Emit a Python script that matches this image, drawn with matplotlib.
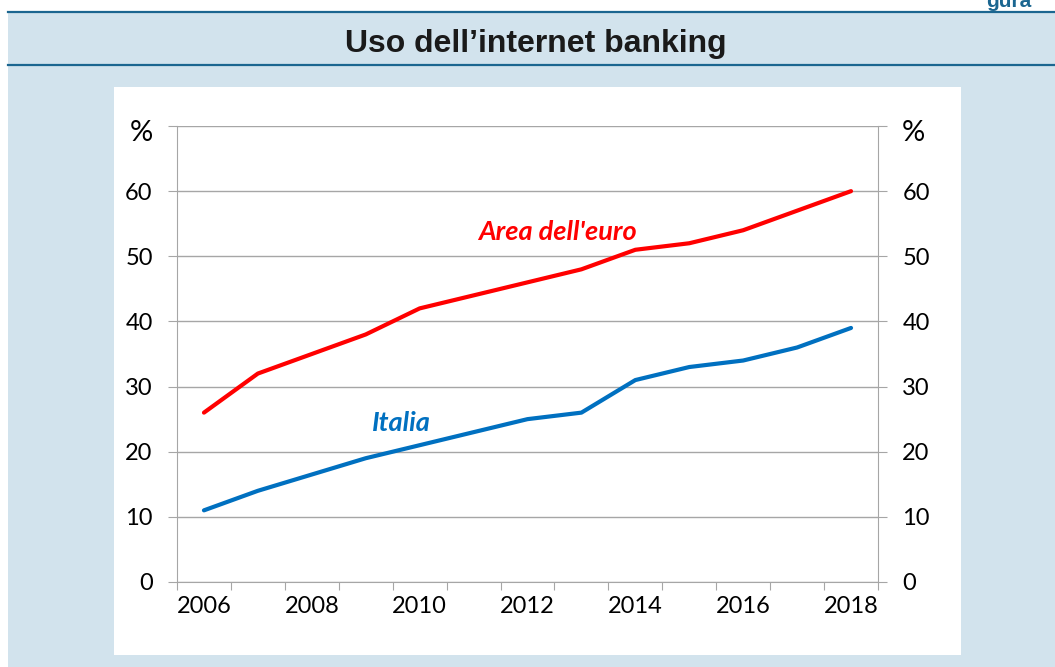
import numpy as np
import matplotlib
matplotlib.use("Agg")
import matplotlib.pyplot as plt
from matplotlib.patches import Rectangle
from matplotlib.lines import Line2D
from matplotlib.transforms import blended_transform_factory

# data
years = np.arange(2006, 2019)
area_euro = [26, 32, 35, 38, 42, 44, 46, 48, 51, 52, 54, 57, 60]
italia = [11, 14, 16.5, 19, 21, 23, 25, 26, 31, 33, 34, 36, 39]
y_ticks = [0, 10, 20, 30, 40, 50, 60, 70]
y_labels = ["0", "10", "20", "30", "40", "50", "60", ""]

W, H = 1055, 667
fig = plt.figure(figsize=(W / 100, H / 100), dpi=100, facecolor="white")

def fx(px):
    return px / W

def fy(py):
    return 1 - py / H

bg = "#d2e3ed"
dark = "#1b6690"

# panel background, title bar lines, white plot box
fig.add_artist(Rectangle((fx(8), 0), 1 - fx(8), fy(12), transform=fig.transFigure,
                         facecolor=bg, edgecolor="none", zorder=-5))
for yy in (11.5, 64.5):
    fig.add_artist(Line2D([fx(8), 1], [fy(yy), fy(yy)], transform=fig.transFigure,
                          color=dark, lw=1.6, zorder=-4))
fig.add_artist(Rectangle((fx(114), fy(655)), fx(961) - fx(114), fy(87) - fy(655),
                         transform=fig.transFigure, facecolor="white",
                         edgecolor="none", zorder=-4))

fig.text(fx(536), fy(52), "Uso dell\u2019internet banking", ha="center", va="baseline",
         fontsize=23, fontweight="bold", family="Liberation Sans", color="#1a1a1a")
fig.text(fx(986), fy(7), "gura", ha="left", va="baseline",
         fontsize=15, fontweight="bold", family="Liberation Sans", color=dark)

ax = fig.add_axes([fx(177), fy(582), fx(878) - fx(177), fy(126) - fy(582)])
ax.set_facecolor("white")
ax.plot(years, area_euro, color="#ff0000", lw=3, solid_capstyle="round", zorder=3)
ax.plot(years, italia, color="#0070c0", lw=3, solid_capstyle="round", zorder=3)

ax.set_xlim(2005.5, 2018.5)
ax.set_ylim(0, 70)

grey = "#a6a6a6"
ax.set_yticks(y_ticks)
ax.set_yticklabels(y_labels)
ax.grid(axis="y", color=grey, lw=1)
ax.set_axisbelow(True)

ax.set_xticks(np.arange(2005.5, 2019, 1))
ax.set_xticklabels([])
ax.set_xticks(years[::2], minor=True)
ax.set_xticklabels([str(y) for y in years[::2]], minor=True)

ax.tick_params(axis="x", which="major", length=6, color=grey, direction="out")
ax.tick_params(axis="x", which="minor", length=0, pad=10, labelsize=17)
ax.tick_params(axis="y", length=6.5, color=grey, direction="out", pad=11,
               labelsize=17, right=True, labelright=True)
for lab in ax.get_xticklabels(minor=True) + ax.get_yticklabels():
    lab.set_family("Lato")

# unit labels, a little below the top gridline
tr = blended_transform_factory(fig.transFigure, ax.transData)
fig.text(fx(153), 68.9, "%", transform=tr, ha="right", va="center",
         fontsize=21, family="Lato")
fig.text(fx(902), 68.9, "%", transform=tr, ha="left", va="center",
         fontsize=21, family="Lato")

for s in ("left", "right", "bottom"):
    ax.spines[s].set_color(grey)
ax.spines["top"].set_visible(False)

ax.text(2012.55, 53.7, "Area dell'euro", color="#ff0000", fontsize=19.5,
        fontweight="bold", style="italic", family="Lato", ha="center", va="center")
ax.text(2009.67, 24.4, "Italia", color="#0070c0", fontsize=19.5,
        fontweight="bold", style="italic", family="Lato", ha="center", va="center")

fig.savefig("out.png", dpi=100)
